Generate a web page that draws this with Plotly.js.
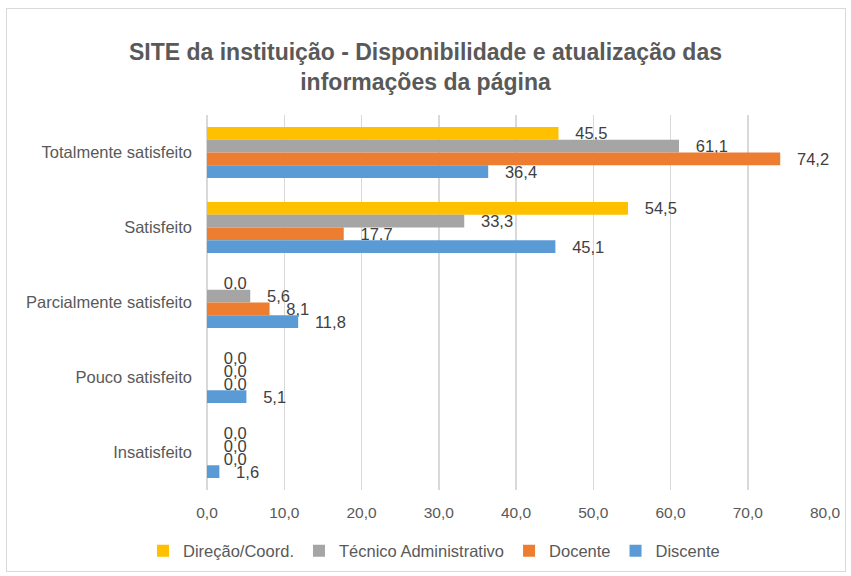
<!DOCTYPE html>
<html><head><meta charset="utf-8">
<script src="https://cdn.plot.ly/plotly-3.0.1.min.js"></script>
<style>
body{margin:0;background:#fff;}
#frame{position:absolute;left:6px;top:8px;width:838px;height:562px;border:1px solid #d9d9d9;pointer-events:none;z-index:5;}
#chart{width:851px;height:576px;}
</style></head><body>
<div id="chart"></div><div id="frame"></div>
<script>
const categories = ['Totalmente satisfeito','Satisfeito','Parcialmente satisfeito','Pouco satisfeito','Insatisfeito'];
const seriesNames = ['Direção/Coord.','Técnico Administrativo','Docente','Discente'];
const direcao = [45.5, 54.5, 0.0, 0.0, 0.0];
const tecnico = [61.1, 33.3, 5.6, 0.0, 0.0];
const docente = [74.2, 17.7, 8.1, 0.0, 0.0];
const discente = [36.4, 45.1, 11.8, 5.1, 1.6];
const xTicks = [0,10,20,30,40,50,60,70,80];
const colors = ['#FFC000','#A5A5A5','#ED7D31','#5B9BD5'];
const values = [direcao, tecnico, docente, discente];
const FONT = 'Liberation Sans, Arial, sans-serif';

const traces = values.map((v,i)=>({
  type:'bar', orientation:'h', name:seriesNames[i],
  x:v, y:categories,
  marker:{color:colors[i]},
  texttemplate:'\u00a0\u00a0\u00a0%{x:.1f}', textposition:'outside',
  textfont:{family:FONT,size:16.5,color:'#404040'},
  cliponaxis:false, constraintext:'none',
  hoverinfo:'x+name'
}));

const layout = {
  width:851, height:576,
  separators:',.',
  paper_bgcolor:'#fff', plot_bgcolor:'#fff',
  margin:{l:207,r:26,t:115,b:86},
  barmode:'group', bargap:0.32, bargroupgap:0,
  font:{family:FONT,color:'#595959',size:16},
  title:{text:'<b>SITE da instituição - Disponibilidade e atualização das<br>informações da página</b>',
    x:0.5, xref:'container', y:1-60/576, yref:'container', yanchor:'middle',
    font:{family:FONT,size:23,color:'#595959'}},
  xaxis:{range:[0,80], tickvals:xTicks, tickformat:'.1f', showgrid:true, gridcolor:'#d9d9d9', gridwidth:1.5,
    zeroline:true, zerolinecolor:'#d9d9d9', zerolinewidth:1.5, showline:false, ticks:'', ticklabelstandoff:11,
    tickfont:{family:FONT,size:15.5,color:'#595959'}, fixedrange:true},
  yaxis:{autorange:'reversed', showgrid:false, showline:false, ticks:'', ticklabelstandoff:14,
    tickfont:{family:FONT,size:16.5,color:'#595959'}},
  legend:{orientation:'h', x:0.51, xref:'container', xanchor:'center', y:1-551/576, yref:'container', yanchor:'middle',
    font:{family:FONT,size:16.5,color:'#595959'}, itemwidth:30, traceorder:'normal'},
  showlegend:true
};
Plotly.newPlot('chart', traces, layout, {displayModeBar:false, staticPlot:true});
</script></body></html>
